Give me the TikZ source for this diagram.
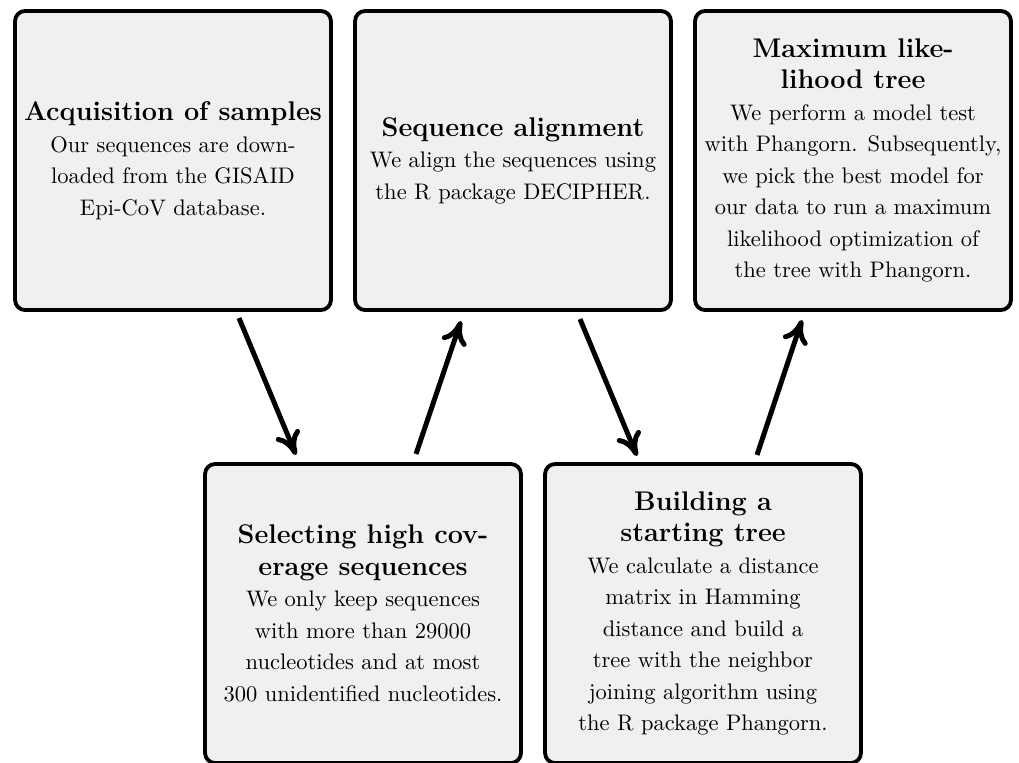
\documentclass[tikz,border=0pt]{standalone}
\usetikzlibrary{arrows.meta}
\definecolor{boxfill}{RGB}{240,240,240}
\newcommand{\ttl}[1]{{\large\bfseries #1}}
\begin{document}
\begin{tikzpicture}[x=0.4444pt,y=-0.4444pt,
  stepbox/.style={draw=black, line width=1.7pt, rounded corners=4.5pt, fill=boxfill,
    minimum width=140.4pt, minimum height=132.9pt, inner sep=1pt, outer sep=0pt,
    align=center, font=\fontsize{10}{14}\selectfont},
  flow/.style={line width=2.2pt, -{To[length=10.5pt,width=11.5pt,round]}}]
\useasboundingbox (0,0) rectangle (1019,762);
\node[stepbox] (acq) at (173,160.5) {\ttl{Acquisition of samples}\\Our sequences are down-\\loaded from the GISAID\\Epi-CoV database.};
\node[stepbox] (aln) at (513,160.5) {\ttl{Sequence alignment}\\We align the sequences using\\the R package DECIPHER.};
\node[stepbox] (ml) at (853,160.5) {\ttl{Maximum like-}\\\ttl{lihood tree}\\We perform a model test\\with Phangorn. Subsequently,\\we pick the best model for\\our data to run a maximum\\likelihood optimization of\\the tree with Phangorn.};
\node[stepbox] (sel) at (363,613.5) {\ttl{Selecting high cov-}\\\ttl{erage sequences}\\We only keep sequences\\with more than 29000\\nucleotides and at most\\300 unidentified nucleotides.};
\node[stepbox] (nj) at (703,613.5) {\ttl{Building a}\\\ttl{starting tree}\\We calculate a distance\\matrix in Hamming\\distance and build a\\tree with the neighbor\\joining algorithm using\\the R package Phangorn.};
\draw[flow] ([shift={(66,8)}]acq.south) -- ([shift={(-67,-9)}]sel.north);
\draw[flow] ([shift={(53,-10)}]sel.north) -- ([shift={(-52,11)}]aln.south);
\draw[flow] ([shift={(67,9)}]aln.south) -- ([shift={(-66,-8)}]nj.north);
\draw[flow] ([shift={(54,-9)}]nj.north) -- ([shift={(-51,10)}]ml.south);
\end{tikzpicture}
\end{document}
